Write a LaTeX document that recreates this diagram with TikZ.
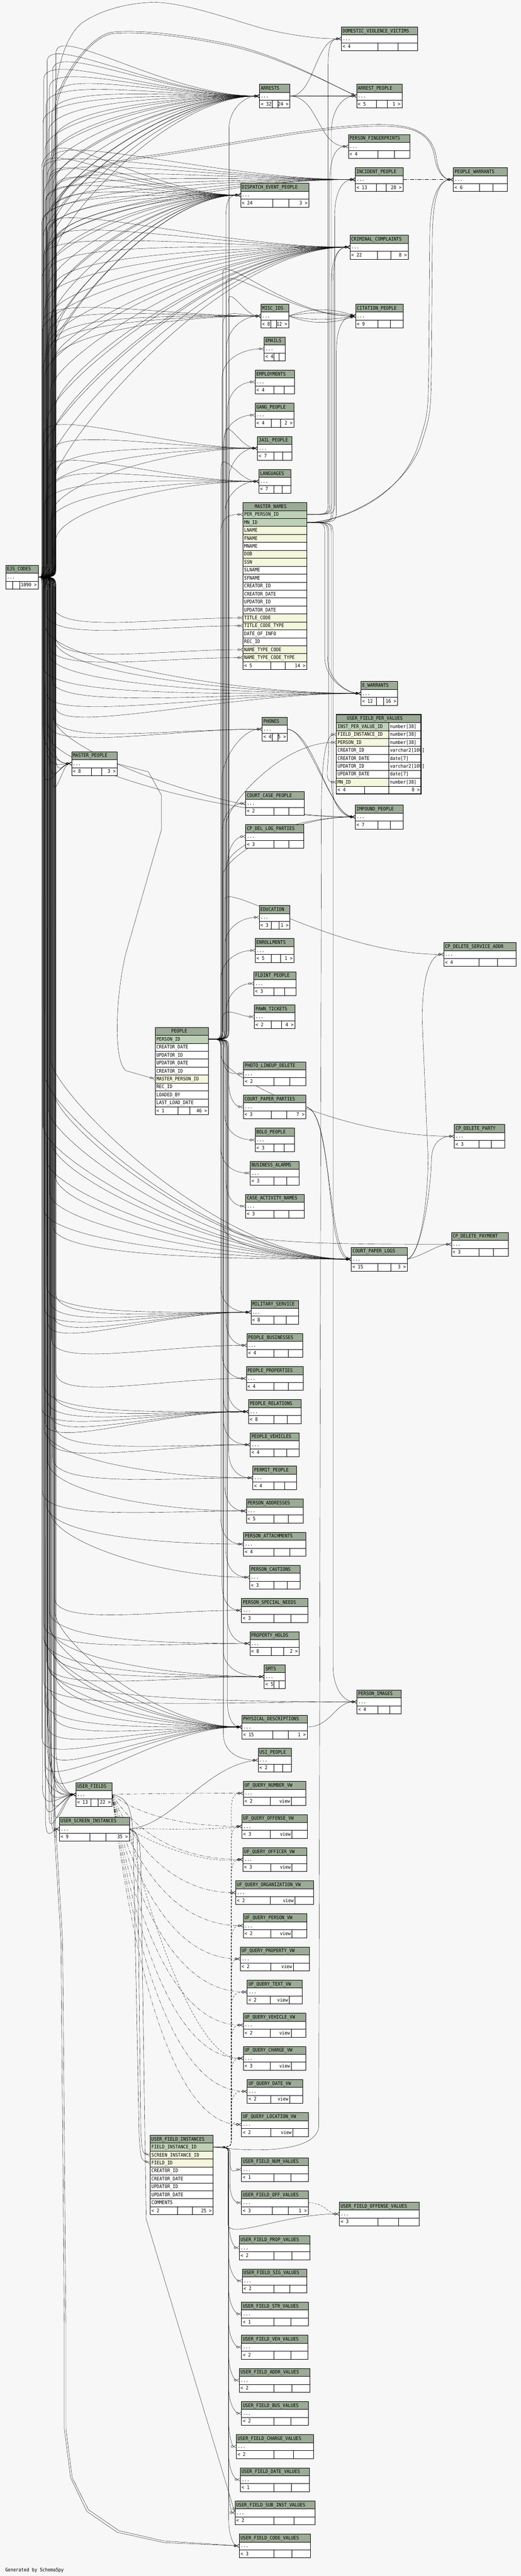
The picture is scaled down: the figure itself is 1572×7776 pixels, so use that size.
\documentclass[tikz,border=0pt]{standalone}
\usepackage{fontspec}
\newfontfamily\tfam{DejaVu Sans Mono}[FakeStretch=0.9]
\usetikzlibrary{arrows.meta}
\definecolor{hdrc}{RGB}{155,171,150}
\definecolor{pkc}{RGB}{190,209,184}
\definecolor{ixc}{RGB}{245,247,220}
\definecolor{bgc}{RGB}{247,247,247}
\definecolor{ftc}{RGB}{255,255,255}
\newcommand\tfont{\tfam\fontsize{14.8}{16}\selectfont}
\pgfdeclarelayer{bg}\pgfdeclarelayer{edges}\pgfsetlayers{bg,edges,main}
\tikzset{
 cell/.style={draw=black,line width=0.8pt,inner sep=0pt,outer sep=0pt,minimum height=24pt,anchor=north west},
 lbl/.style={inner sep=0pt,outer sep=0pt,anchor=west,text height=10pt,text depth=0pt,font=\tfont},
 rlbl/.style={lbl,anchor=east},
 clbl/.style={lbl,anchor=center},
 fk/.style={draw=black,line width=0.6pt,-{Circle[open,length=7pt,width=7pt] Straight Barb[reversed,length=8pt,width=9pt]}},
 fkd/.style={fk,dash pattern=on 6pt off 4pt},
 fkdd/.style={fk,dash pattern=on 12pt off 4pt on 2pt off 4pt},
}
% footer: id, x1, y, s1, s2, x2, left, right
\newcommand\ftr[8]{%
 \node[cell,fill=ftc,minimum width={(#4)-(#2)}] (#1-f1) at ({#2},{#3}) {};
 \node[cell,fill=ftc,minimum width={(#5)-(#4)}] (#1-f2) at ({#4},{#3}) {};
 \node[cell,fill=ftc,minimum width={(#6)-(#5)}] (#1-f3) at ({#5},{#3}) {};
 \node[lbl] (#1-fl) at ({#2+4},{#3+12}) {#7};
 \node[rlbl] (#1-fr) at ({#6-4},{#3+12}) {#8};}
% small table: id, x1, y, x2, title, s1, s2, left, right
\newcommand\stbl[9]{%
 \node[cell,fill=hdrc,minimum width={(#4)-(#2)}] (#1-h) at ({#2},{#3}) {};
 \node[lbl] (#1-ht) at ({#2+4},{#3+12}) {#5};
 \node[cell,fill=white,minimum width={(#4)-(#2)}] (#1) at ({#2},{#3+24}) {};
 \node[lbl] (#1-dt) at ({#2+4},{#3+36}) {...};
 \ftr{#1}{#2}{#3+48}{#6}{#7}{#4}{#8}{#9}}
\newcommand\vtbl[8]{%
 \stbl{#1}{#2}{#3}{#4}{#5}{#6}{#7}{#8}{}%
 \node[rlbl] (#1-vw) at ({#7-4},{#3+60}) {view};}
% column row: id, x1, y, x2, text, fill
\newcommand\crow[6]{%
 \node[cell,fill=#6,minimum width={(#4)-(#2)}] (#1) at ({#2},{#3}) {};
 \node[lbl] (#1-t) at ({#2+4},{#3+12}) {#5};}
% typed row: id, x1, y, xs, x2, name, type, fill
\newcommand\trow[8]{%
 \node[cell,fill=#8,minimum width={(#4)-(#2)}] (#1) at ({#2},{#3}) {};
 \node[cell,fill=white,minimum width={(#5)-(#4)}] (#1-ty) at ({#4},{#3}) {};
 \node[lbl] (#1-t) at ({#2+4},{#3+12}) {#6};
 \node[lbl] (#1-tt) at ({#4+4},{#3+12}) {#7};}
% fan of connectors from \fst: target, X, Y, n, offA, offB, style
\newcommand\fan[7]{%
 \foreach \kk in {1,...,#4}{%
  \pgfmathsetmacro\eT{(\kk-1)/max((#4)-1,1)}%
  \pgfmathsetmacro\eD{((#3)<(\fsy))?(-1):(1)}%
  \pgfmathsetmacro\eO{min((#5)+((#6)-(#5))*\eT,abs((#3)-(\fsy))-(\fgap))}%
  \pgfmathsetmacro\eX{(\ftx)+mod(\kk*17+(#3),\fts)}%
  \pgfmathsetmacro\eY{(#3)-(\eD)*(\eO)}%
  \pgfmathsetmacro\eA{(\fsy)+(\eD)*(\frise)}%
  \pgfmathsetmacro\eC{(\eY)+(\eD)*(\fh)}%
  \pgfmathsetmacro\eXc{(#2)-(\fapp)*((#2)-(\eX))}%
  \draw[fk,#7] (\fst) .. controls (\eX,\fsy) .. (\eX,\eA) -- (\eX,\eY) .. controls (\eX,\eC) and (\eXc,#3) .. (#1);%
 }}
\newcommand\mnup[6]{\draw[fk] (#1) .. controls ({#3},{#2}) .. ({#3},{#2-40}) -- ({#3},{#6+110}) .. controls ({#3},{#6+40}) and ({#5-40},{#6}) .. (#4);}
\newcommand\mndown[6]{\draw[fk] (#1) .. controls ({#3},{#2}) .. ({#3},{#2+40}) -- ({#3},{#6-110}) .. controls ({#3},{#6-40}) and ({#5-40},{#6}) .. (#4);}
\begin{document}
\begin{tikzpicture}[x=1pt,y=-1pt]
\begin{pgfonlayer}{bg}
\fill[bgc] (0,0) rectangle (1572,7776);
\end{pgfonlayer}
\useasboundingbox (0,0) rectangle (1572,7776);
% ---------- small tables ----------
\stbl{dvv}{1030}{81}{1260}{DOMESTIC\_VIOLENCE\_VICTIMS}{1141}{1201}{< 4}{}
\stbl{arr}{783}{254}{875}{ARRESTS}{821}{839}{< 32}{24 >}
\stbl{arp}{1076}{254}{1213}{ARREST\_PEOPLE}{1136}{1169}{< 5}{1 >}
\stbl{pfp}{1051}{406}{1237}{PERSON\_FINGERPRINTS}{1141}{1190}{< 4}{}
\stbl{inc}{1072}{506}{1216}{INCIDENT\_PEOPLE}{1135}{1165}{< 13}{28 >}
\stbl{pwr}{1368}{506}{1530}{PEOPLE\_WARRANTS}{1446}{1487}{< 6}{}
\stbl{dep}{726}{553}{932}{DISPATCH\_EVENT\_PEOPLE}{823}{872}{< 24}{3 >}
\stbl{crc}{1056}{710}{1232}{CRIMINAL\_COMPLAINTS}{1139}{1180}{< 22}{8 >}
\stbl{misc}{787}{918}{871}{MISC\_IDS}{817}{834}{< 8}{12 >}
\stbl{cit}{1073}{918}{1216}{CITATION\_PEOPLE}{1141}{1178}{< 9}{}
\stbl{eml}{797}{1017}{861}{EMAILS}{826}{842}{< 4}{}
\stbl{emp}{770}{1117}{889}{EMPLOYMENTS}{826}{857}{< 4}{}
\stbl{gng}{770}{1217}{887}{GANG\_PEOPLE}{819}{847}{< 4}{2 >}
\stbl{jail}{777}{1317}{881}{JAIL\_PEOPLE}{826}{853}{< 7}{}
\stbl{lang}{781}{1417}{878}{LANGUAGES}{826}{851}{< 7}{}
\stbl{ewr}{1089}{2057}{1200}{E\_WARRANTS}{1136}{1157}{< 12}{16 >}
\stbl{phn}{791}{2165}{867}{PHONES}{821}{838}{< 4}{5 >}
\stbl{imp}{1072}{2430}{1216}{IMPOUND\_PEOPLE}{1141}{1178}{< 7}{}
\stbl{ccp}{741}{2389}{918}{COURT\_CASE\_PEOPLE}{826}{871}{< 2}{}
\stbl{cpd}{741}{2489}{917}{CP\_DEL\_LOG\_PARTIES}{826}{871}{< 3}{}
\stbl{edu}{782}{2733}{875}{EDUCATION}{819}{841}{< 3}{1 >}
\stbl{enr}{770}{2833}{887}{ENROLLMENTS}{819}{847}{< 5}{1 >}
\stbl{fld}{766}{2933}{893}{FLDINT\_PEOPLE}{826}{859}{< 3}{}
\stbl{pawn}{767}{3033}{890}{PAWN\_TICKETS}{819}{850}{< 2}{4 >}
\stbl{csa}{1339}{2845}{1557}{CP\_DELETE\_SERVICE\_ADDR}{1445}{1501}{< 4}{}
\stbl{pld}{735}{3205}{922}{PHOTO\_LINEUP\_DELETE}{826}{874}{< 2}{}
\stbl{cpp}{734}{3305}{923}{COURT\_PAPER\_PARTIES}{819}{865}{< 3}{7 >}
\stbl{bolo}{770}{3405}{889}{BOLO\_PEOPLE}{826}{857}{< 3}{}
\stbl{bus}{755}{3505}{903}{BUSINESS\_ALARMS}{826}{865}{< 3}{}
\stbl{can}{741}{3605}{918}{CASE\_ACTIVITY\_NAMES}{826}{871}{< 3}{}
\stbl{cdp}{1371}{3394}{1523}{CP\_DELETE\_PARTY}{1445}{1483}{< 3}{}
\stbl{cdy}{1362}{3720}{1534}{CP\_DELETE\_PAYMENT}{1445}{1489}{< 3}{}
\stbl{cpl}{1060}{3765}{1229}{COURT\_PAPER\_LOGS}{1140}{1179}{< 15}{3 >}
\stbl{mil}{757}{3925}{901}{MILITARY\_SERVICE}{826}{863}{< 8}{}
\stbl{pbus}{745}{4025}{914}{PEOPLE\_BUSINESSES}{826}{870}{< 4}{}
\stbl{pprop}{743}{4125}{915}{PEOPLE\_PROPERTIES}{826}{870}{< 4}{}
\stbl{prel}{750}{4225}{909}{PEOPLE\_RELATIONS}{826}{867}{< 8}{}
\stbl{pveh}{755}{4325}{903}{PEOPLE\_VEHICLES}{826}{865}{< 4}{}
\stbl{perm}{763}{4425}{894}{PERMIT\_PEOPLE}{826}{859}{< 4}{}
\stbl{padr}{743}{4525}{915}{PERSON\_ADDRESSES}{826}{870}{< 5}{}
\stbl{patt}{735}{4625}{922}{PERSON\_ATTACHMENTS}{826}{874}{< 4}{}
\stbl{pcau}{753}{4725}{906}{PERSON\_CAUTIONS}{826}{866}{< 3}{}
\stbl{psn}{729}{4825}{929}{PERSON\_SPECIAL\_NEEDS}{826}{877}{< 3}{}
\stbl{phold}{754}{4925}{903}{PROPERTY\_HOLDS}{819}{855}{< 8}{2 >}
\stbl{smts}{797}{5025}{861}{SMTS}{826}{842}{< 5}{}
\stbl{pimg}{1077}{5101}{1211}{PERSON\_IMAGES}{1141}{1176}{< 4}{}
\stbl{phys}{730}{5177}{927}{PHYSICAL\_DESCRIPTIONS}{823}{869}{< 15}{1 >}
\stbl{usip}{779}{5277}{879}{USI\_PEOPLE}{826}{853}{< 2}{}
\vtbl{vnum}{734}{5377}{923}{UF\_QUERY\_NUMBER\_VW}{815}{879}{< 2}
\vtbl{voff}{730}{5477}{927}{UF\_QUERY\_OFFENSE\_VW}{815}{881}{< 3}
\vtbl{vofc}{733}{5577}{926}{UF\_QUERY\_OFFICER\_VW}{817}{881}{< 3}
\vtbl{vorg}{711}{5677}{946}{UF\_QUERY\_ORGANIZATION\_VW}{815}{890}{< 2}
\vtbl{vper}{734}{5777}{925}{UF\_QUERY\_PERSON\_VW}{817}{881}{< 2}
\vtbl{vprop}{725}{5877}{934}{UF\_QUERY\_PROPERTY\_VW}{817}{885}{< 2}
\vtbl{vtxt}{746}{5977}{911}{UF\_QUERY\_TEXT\_VW}{815}{873}{< 2}
\vtbl{vveh}{734}{6077}{923}{UF\_QUERY\_VEHICLE\_VW}{815}{879}{< 2}
\vtbl{vchg}{734}{6177}{923}{UF\_QUERY\_CHARGE\_VW}{815}{879}{< 3}
\vtbl{vdate}{746}{6277}{913}{UF\_QUERY\_DATE\_VW}{817}{874}{< 2}
\vtbl{vloc}{729}{6377}{930}{UF\_QUERY\_LOCATION\_VW}{817}{884}{< 2}
\stbl{ufnum}{729}{6513}{930}{USER\_FIELD\_NUM\_VALUES}{826}{878}{< 1}{}
\stbl{ufoff}{729}{6613}{930}{USER\_FIELD\_OFF\_VALUES}{821}{869}{< 3}{1 >}
\stbl{ufoffense}{1024}{6647}{1265}{USER\_FIELD\_OFFENSE\_VALUES}{1141}{1203}{< 3}{}
\stbl{ufprop}{722}{6749}{935}{USER\_FIELD\_PROP\_VALUES}{826}{881}{< 2}{}
\stbl{ufsig}{731}{6849}{926}{USER\_FIELD\_SIG\_VALUES}{826}{875}{< 2}{}
\stbl{ufstr}{729}{6949}{930}{USER\_FIELD\_STR\_VALUES}{826}{878}{< 1}{}
\stbl{ufveh}{729}{7049}{929}{USER\_FIELD\_VEH\_VALUES}{826}{877}{< 2}{}
\stbl{ufaddr}{722}{7149}{935}{USER\_FIELD\_ADDR\_VALUES}{826}{881}{< 2}{}
\stbl{ufbus}{729}{7249}{930}{USER\_FIELD\_BUS\_VALUES}{826}{878}{< 2}{}
\stbl{ufchg}{713}{7349}{946}{USER\_FIELD\_CHARGE\_VALUES}{826}{886}{< 2}{}
\stbl{ufdate}{725}{7449}{934}{USER\_FIELD\_DATE\_VALUES}{826}{879}{< 1}{}
\stbl{ufsub}{709}{7549}{950}{USER\_FIELD\_SUB\_INST\_VALUES}{826}{887}{< 2}{}
\stbl{ufcode}{722}{7649}{937}{USER\_FIELD\_CODE\_VALUES}{826}{881}{< 3}{}
\stbl{ejs}{17}{1706}{115}{EJS\_CODES}{38}{59}{}{1090 >}
\stbl{mpeo}{216}{2269}{353}{MASTER\_PEOPLE}{275}{307}{< 8}{3 >}
\stbl{uf}{229}{5381}{338}{USER\_FIELDS}{274}{296}{< 13}{22 >}
\stbl{usi}{179}{5485}{390}{USER\_SCREEN\_INSTANCES}{271}{319}{< 9}{35 >}
% ---------- MASTER_NAMES ----------
\node[cell,fill=hdrc,minimum width=193] (mn-h) at (733,1517) {};
\node[clbl] (mn-ht) at (817,1529) {MASTER\_NAMES};
\foreach \ri/\rt/\rc in {1/PER\_PERSON\_ID/pkc,2/MN\_ID/pkc,3/LNAME/ixc,4/FNAME/ixc,5/MNAME/white,6/DOB/ixc,7/SSN/ixc,8/SLNAME/white,9/SFNAME/white,10/CREATOR\_ID/white,11/CREATOR\_DATE/white,12/UPDATOR\_ID/white,13/UPDATOR\_DATE/white,14/TITLE\_CODE/ixc,15/TITLE\_CODE\_TYPE/ixc,16/DATE\_OF\_INFO/white,17/REC\_ID/white,18/NAME\_TYPE\_CODE/ixc,19/NAME\_TYPE\_CODE\_TYPE/ixc}{\crow{mn-\ri}{733}{1541+24*(\ri-1)}{926}{\rt}{\rc}}
\ftr{mn}{733}{1997}{817}{861}{926}{< 5}{14 >}
% ---------- PEOPLE ----------
\node[cell,fill=hdrc,minimum width=161] (pe-h) at (468,3101) {};
\node[clbl] (pe-ht) at (541,3113) {PEOPLE};
\foreach \ri/\rt/\rc in {1/PERSON\_ID/pkc,2/CREATOR\_DATE/white,3/UPDATOR\_ID/white,4/UPDATOR\_DATE/white,5/CREATOR\_ID/white,6/MASTER\_PERSON\_ID/ixc,7/REC\_ID/white,8/LOADED\_BY/white,9/LAST\_LOAD\_DATE/white}{\crow{pe-\ri}{468}{3125+24*(\ri-1)}{629}{\rt}{\rc}}
\ftr{pe}{468}{3341}{537}{573}{629}{< 1}{46 >}
% ---------- USER_FIELD_INSTANCES ----------
\node[cell,fill=hdrc,minimum width=190] (ufi-h) at (453,6445) {};
\node[clbl] (ufi-ht) at (537,6457) {USER\_FIELD\_INSTANCES};
\foreach \ri/\rt/\rc in {1/FIELD\_INSTANCE\_ID/pkc,2/SCREEN\_INSTANCE\_ID/ixc,3/FIELD\_ID/ixc,4/CREATOR\_ID/white,5/CREATOR\_DATE/white,6/UPDATOR\_ID/white,7/UPDATOR\_DATE/white,8/COMMENTS/white}{\crow{ufi-\ri}{453}{6469+24*(\ri-1)}{643}{\rt}{\rc}}
\ftr{ufi}{453}{6661}{535}{580}{643}{< 2}{25 >}
% ---------- USER_FIELD_PER_VALUES ----------
\node[cell,fill=hdrc,minimum width=256] (ufpv-h) at (1015,2157) {};
\node[clbl] (ufpv-ht) at (1131,2169) {USER\_FIELD\_PER\_VALUES};
\trow{ufpv-1}{1015}{2181}{1173}{1271}{INST\_PER\_VALUE\_ID}{number[38]}{pkc}
\trow{ufpv-2}{1015}{2205}{1173}{1271}{FIELD\_INSTANCE\_ID}{number[38]}{ixc}
\trow{ufpv-3}{1015}{2229}{1173}{1271}{PERSON\_ID}{number[38]}{ixc}
\trow{ufpv-4}{1015}{2253}{1173}{1271}{CREATOR\_ID}{varchar2[100]}{white}
\trow{ufpv-5}{1015}{2277}{1173}{1271}{CREATOR\_DATE}{date[7]}{white}
\trow{ufpv-6}{1015}{2301}{1173}{1271}{UPDATOR\_ID}{varchar2[100]}{white}
\trow{ufpv-7}{1015}{2325}{1173}{1271}{UPDATOR\_DATE}{date[7]}{white}
\trow{ufpv-8}{1015}{2349}{1173}{1271}{MN\_ID}{number[38]}{ixc}
\ftr{ufpv}{1015}{2373}{1100}{1173}{1271}{< 4}{0 >}
\draw[line width=2.6pt] (1015,2157) rectangle (1271,2397);
\node[lbl] (gen) at (16,7757) {Generated by SchemaSpy};
% ================= connectors =================
\begin{pgfonlayer}{edges}
% --- from EJS_CODES ---
\def\fst{ejs.east}\def\fsy{1742}\def\ftx{126}\def\fts{44}\def\frise{40}\def\fh{90}\def\fapp{0.45}\def\fgap{80}
\fan{arr.west}{783}{290}{24}{-130}{480}{}
\fan{dep.west}{726}{589}{20}{-120}{520}{}
\fan{inc.west}{1072}{542}{10}{-60}{220}{}
\fan{crc.west}{1056}{746}{18}{-60}{700}{}
\fan{misc.west}{787}{954}{5}{20}{150}{}
\fan{jail.west}{777}{1353}{5}{-40}{200}{}
\fan{lang.west}{781}{1453}{5}{-30}{180}{}
\fan{mn-14.west}{733}{1865}{1}{40}{40}{}
\fan{mn-15.west}{733}{1889}{1}{40}{40}{}
\fan{mn-18.west}{733}{1961}{1}{40}{40}{}
\fan{mn-19.west}{733}{1985}{1}{40}{40}{}
\fan{ewr.west}{1089}{2093}{7}{-40}{200}{}
\fan{phn.west}{791}{2201}{2}{20}{40}{}
\fan{mpeo.west}{216}{2305}{7}{-40}{120}{}
\fan{imp.west}{1072}{2466}{2}{250}{300}{}
\fan{cpl.west}{1060}{3801}{11}{100}{600}{}
\fan{mil.west}{757}{3961}{6}{-30}{80}{}
\fan{pbus.west}{745}{4061}{1}{20}{20}{}
\fan{pprop.west}{743}{4161}{1}{20}{20}{}
\fan{prel.west}{750}{4261}{6}{-30}{80}{}
\fan{pveh.west}{755}{4361}{2}{20}{60}{}
\fan{perm.west}{763}{4461}{2}{60}{150}{}
\fan{padr.west}{743}{4561}{2}{60}{150}{}
\fan{patt.west}{735}{4661}{1}{120}{120}{}
\fan{pcau.west}{753}{4761}{1}{200}{200}{}
\fan{psn.west}{729}{4861}{1}{40}{40}{}
\fan{phold.west}{754}{4961}{2}{60}{100}{}
\fan{smts.west}{797}{5061}{4}{40}{150}{}
\fan{pimg.west}{1077}{5137}{2}{60}{100}{}
\fan{phys.west}{730}{5213}{14}{-150}{350}{}
\fan{uf.west}{229}{5417}{11}{-60}{160}{}
\fan{usi.west}{179}{5521}{3}{20}{60}{}
\draw[fk] (ejs.east) .. controls (165,1742) .. (166,1702) -- (168,300) .. controls (170,200) and (200,110) .. (244,72) .. controls (300,30) and (390,8) .. (465,7) .. controls (560,8) and (700,60) .. (800,88) .. controls (900,110) and (960,117) .. (dvv.west);
\foreach \oo in {0,5}{
 \draw[fk] (ejs.east) .. controls ({162+\oo},1742) .. ({163+\oo},1702) -- ({167+\oo},320) .. controls ({170+\oo},{260+\oo}) and (260,{110+\oo}) .. (338,{97+\oo}) .. controls (420,{88+\oo}) and (560,{105+\oo}) .. (700,{135+\oo}) .. controls (850,{170+\oo}) and (990,250) .. (arp.west);
 \draw[fk] (ejs.east) .. controls ({158+\oo},1742) .. ({159+\oo},1702) -- ({166+\oo},640) .. controls ({170+\oo},560) and (280,{490+\oo}) .. (448,{470+\oo}) .. controls (700,{435+\oo}) and (950,{380+\oo}) .. (1127,{376+\oo}) .. controls (1230,{374+\oo}) and ({1300-\oo},390) .. ({1316-\oo},470) .. controls ({1322-\oo},520) and (1340,542) .. (pwr.west);
 \draw[fk] (ejs.east) .. controls ({136+\oo},1742) .. ({136+\oo},1790) -- ({138+\oo},5100) -- ({184+\oo},5860) -- ({194+\oo},7016) -- ({194+\oo},7331) -- ({213+\oo},7479) -- ({262+\oo},{7581-\oo}) -- ({354+\oo},{7644-\oo}) -- (494,{7675-\oo}) -- (ufcode.west);
}
% --- from PEOPLE.PERSON_ID ---
\def\fst{pe-1.east}\def\fsy{3137}\def\ftx{664}\def\fts{28}\def\frise{30}\def\fh{60}\def\fapp{0.5}\def\fgap{50}
\fan{mn-1.west}{733}{1553}{1}{60}{60}{}
\fan{arr.west}{783}{290}{1}{100}{100}{}
\fan{dep.west}{726}{589}{1}{60}{60}{}
\fan{misc.west}{787}{954}{3}{100}{-40}{}
\fan{cit.west}{1073}{954}{2}{-100}{-130}{}
\fan{eml.west}{797}{1053}{1}{90}{90}{}
\fan{emp.west}{770}{1153}{1}{90}{90}{}
\fan{gng.west}{770}{1253}{1}{90}{90}{}
\fan{jail.west}{777}{1353}{2}{100}{-40}{}
\fan{lang.west}{781}{1453}{2}{100}{-40}{}
\fan{phn.west}{791}{2201}{1}{150}{150}{}
\fan{ufpv-3.west}{1015}{2241}{1}{250}{250}{}
\fan{ccp.west}{741}{2425}{1}{90}{90}{}
\fan{imp.west}{1072}{2466}{2}{150}{180}{}
\fan{cpd.west}{741}{2525}{1}{90}{90}{}
\fan{edu.west}{782}{2769}{1}{90}{90}{}
\fan{csa.west}{1339}{2881}{1}{-164}{-164}{}
\fan{enr.west}{770}{2869}{1}{90}{90}{}
\fan{fld.west}{766}{2969}{1}{90}{90}{}
\fan{pawn.west}{767}{3069}{1}{60}{60}{}
\fan{pld.west}{735}{3241}{1}{60}{60}{}
\fan{cpp.west}{734}{3341}{1}{80}{80}{}
\fan{bolo.west}{770}{3441}{1}{80}{80}{}
\fan{bus.west}{755}{3541}{1}{80}{80}{}
\fan{can.west}{741}{3641}{1}{80}{80}{}
\fan{cdp.west}{1371}{3430}{1}{243}{243}{}
\fan{cdy.west}{1362}{3756}{1}{60}{60}{}
\fan{cpl.west}{1060}{3801}{1}{100}{100}{}
\fan{mil.west}{757}{3961}{1}{80}{80}{}
\fan{pbus.west}{745}{4061}{1}{80}{80}{}
\fan{pprop.west}{743}{4161}{1}{80}{80}{}
\fan{prel.west}{750}{4261}{2}{80}{40}{}
\fan{pveh.west}{755}{4361}{1}{80}{80}{}
\fan{perm.west}{763}{4461}{1}{80}{80}{}
\fan{padr.west}{743}{4561}{1}{80}{80}{}
\fan{patt.west}{735}{4661}{1}{80}{80}{}
\fan{pcau.west}{753}{4761}{1}{80}{80}{}
\fan{psn.west}{729}{4861}{1}{80}{80}{}
\fan{phold.west}{754}{4961}{1}{80}{80}{}
\fan{smts.west}{797}{5061}{1}{80}{80}{}
\fan{phys.west}{730}{5213}{1}{80}{80}{}
\fan{usip.west}{779}{5313}{1}{80}{80}{}
% --- from USER_FIELD_INSTANCES ---
\def\fst{ufi-1.east}\def\fsy{6481}\def\ftx{688}\def\fts{20}\def\frise{25}\def\fh{50}\def\fapp{0.5}\def\fgap{40}
\fan{ufnum.west}{729}{6549}{1}{40}{40}{}
\fan{ufoff.west}{729}{6649}{1}{60}{60}{}
\fan{ufoffense.west}{1024}{6683}{1}{-30}{-30}{}
\fan{ufprop.west}{722}{6785}{1}{80}{80}{}
\fan{ufsig.west}{731}{6885}{1}{80}{80}{}
\fan{ufstr.west}{729}{6985}{1}{80}{80}{}
\fan{ufveh.west}{729}{7085}{1}{80}{80}{}
\fan{ufaddr.west}{722}{7185}{1}{80}{80}{}
\fan{ufbus.west}{729}{7285}{1}{80}{80}{}
\fan{ufchg.west}{713}{7385}{1}{80}{80}{}
\fan{ufdate.west}{725}{7485}{1}{80}{80}{}
\fan{ufsub.west}{709}{7585}{1}{80}{80}{}
\fan{ufcode.west}{722}{7685}{1}{80}{80}{}
\fan{vnum.west}{734}{5413}{1}{50}{50}{fkd}
\fan{voff.west}{730}{5513}{1}{50}{50}{fkd}
\fan{vofc.west}{733}{5613}{1}{50}{50}{fkd}
\fan{vorg.west}{711}{5713}{1}{50}{50}{fkd}
\fan{vper.west}{734}{5813}{1}{50}{50}{fkd}
\fan{vprop.west}{725}{5913}{1}{50}{50}{fkd}
\fan{vtxt.west}{746}{6013}{1}{50}{50}{fkd}
\fan{vveh.west}{734}{6113}{1}{50}{50}{fkd}
\fan{vchg.west}{734}{6213}{1}{50}{50}{fkd}
\fan{vdate.west}{746}{6313}{1}{50}{50}{fkd}
\fan{vloc.west}{729}{6413}{1}{50}{50}{fkd}
\draw[fk] (ufi-1.east) .. controls (800,6500) and (955,6490) .. (962,6420) -- (970,2420) .. controls (972,2260) and (990,2217) .. (ufpv-2.west);
% --- from MASTER_NAMES ---
\mnup{mn-1.east}{1553}{990}{dvv.west}{1030}{117}
\mnup{mn-1.east}{1553}{1000}{arp.west}{1076}{290}
\mnup{mn-1.east}{1553}{995}{pfp.west}{1051}{442}
\mnup{mn-1.east}{1553}{1010}{inc.west}{1072}{542}
\mnup{mn-2.east}{1577}{1000}{crc.west}{1056}{746}
\mnup{mn-2.east}{1577}{1005}{crc.west}{1056}{746}
\mnup{mn-2.east}{1577}{1015}{cit.west}{1073}{954}
\mndown{mn-2.east}{1577}{980}{ewr.west}{1089}{2093}
\mndown{mn-2.east}{1577}{988}{ewr.west}{1089}{2093}
\mndown{mn-2.east}{1577}{992}{ufpv-8.west}{1015}{2361}
\mndown{mn-2.east}{1577}{1000}{imp.west}{1072}{2466}
\mndown{mn-2.east}{1577}{1005}{pimg.west}{1077}{5137}
\foreach \oo in {0,8}{
 \draw[fk] (mn-2.east) .. controls (1000,1580) and (1200,{1520-\oo}) .. ({1260+\oo},1350) .. controls ({1292+\oo},1250) .. ({1294+\oo},1100) -- ({1297+\oo},700) .. controls ({1300+\oo},580) and (1330,542) .. (pwr.west);}
% --- other relationships ---
\draw[fk] (arr.east) .. controls (950,290) and (950,117) .. (dvv.west);
\draw[fk] (arr.east) -- (arp.west);
\draw[fk] (arr.east) .. controls (960,290) and (960,442) .. (pfp.west);
\draw[fkdd] (inc.east) -- (pwr.west);
\draw[fk] (misc.east) .. controls (940,928) and (1000,930) .. (cit.west);
\draw[fk] (misc.east) .. controls (940,940) and (1000,942) .. (cit.west);
\draw[fk] (misc.east) .. controls (940,968) and (1000,966) .. (cit.west);
\draw[fk] (misc.east) .. controls (940,980) and (1000,978) .. (cit.west);
\draw[fk] (phn.east) .. controls (930,2200) and (1000,2466) .. (imp.west);
\draw[fk] (phn.east) .. controls (950,2212) and (990,2458) .. (imp.west);
\draw[fk] (cpp.east) .. controls (1000,3350) and (990,3780) .. (cpl.west);
\draw[fk] (cpp.east) .. controls (1010,3360) and (980,3795) .. (cpl.west);
\draw[fk] (cpl.east) .. controls (1270,3790) and (1300,3600) .. (1302,3500) .. controls (1304,3440) and (1340,3430) .. (cdp.west);
\draw[fk] (cpl.east) .. controls (1265,3790) and (1290,3650) .. (1292,3500) -- (1275,3100) .. controls (1270,2950) and (1300,2881) .. (csa.west);
\draw[fk] (cpl.east) .. controls (1280,3790) and (1320,3756) .. (cdy.west);
\draw[fk] (phys.east) .. controls (1000,5213) and (1010,5137) .. (pimg.west);
\draw[fkd] (ufoff.east) .. controls (980,6649) and (990,6683) .. (ufoffense.west);
\draw[fk] (mpeo.east) -- (448,2330) -- (487,2400) -- (487,2505) -- (380,2877) .. controls (350,3000) and (340,3200) .. (380,3232) -- (pe-6.west);
\draw[fk] (uf.east) .. controls (410,5430) and (400,5500) .. (405,5700) -- (420,6450) .. controls (425,6520) .. (ufi-3.west);
\draw[fk] (usi.east) .. controls (415,5530) .. (415,5600) -- (425,6440) .. controls (430,6500) .. (ufi-2.west);
\draw[fk] (usi.east) .. controls (520,5510) and (620,5330) .. (usip.west);
\draw[fk] (usi.east) .. controls (420,5540) .. (425,5620) -- (441,6698) -- (ufsub.west);
\foreach \vw/\vy in {vnum/5413,voff/5513,vofc/5613,vorg/5713,vper/5813,vprop/5913,vtxt/6013,vveh/6113,vchg/6213,vdate/6313,vloc/6413}{
 \draw[fkdd] (uf.east) .. controls (400,{5417+0.5*(\vy-5417)}) and (520,\vy) .. (\vw.west);}
\foreach \vw/\vy in {voff/5513,vofc/5613,vchg/6213}{
 \draw[fkd] (usi.east) .. controls (450,{5521+0.4*(\vy-5521)}) and (600,{\vy+15}) .. (\vw.west);}
\end{pgfonlayer}
\end{tikzpicture}
\end{document}
